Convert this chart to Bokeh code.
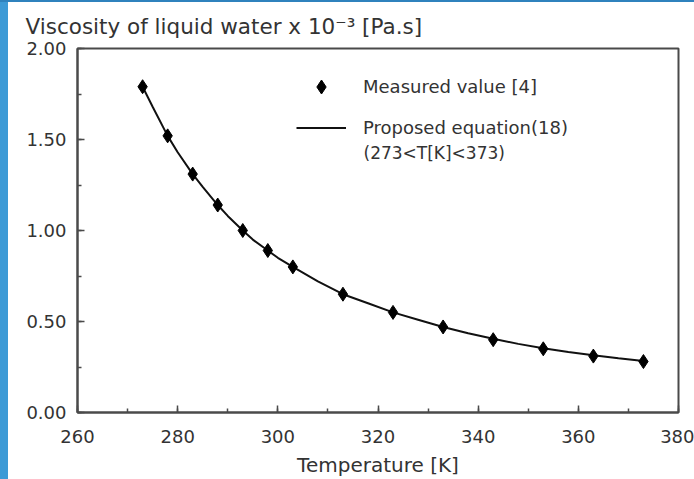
from bokeh.plotting import figure
from bokeh.models import (Range1d, SingleIntervalTicker, NumeralTickFormatter,
                          Label, Legend, LegendItem, Title, Div)
from bokeh.layouts import row, column
from bokeh.embed import file_html
from bokeh.resources import INLINE

# ---- data ----
T_meas = [273, 278, 283, 288, 293, 298, 303, 313, 323, 333, 343, 353, 363, 373]
mu_meas = [1.79, 1.52, 1.31, 1.14, 1.00, 0.89, 0.80, 0.65, 0.55, 0.47, 0.40, 0.35, 0.31, 0.28]

T_curve = [273, 275, 278, 280, 283, 285, 288, 290, 293, 295, 298, 300, 303, 308,
           313, 318, 323, 328, 333, 338, 343, 348, 353, 358, 363, 368, 373]
mu_curve = [1.79, 1.68, 1.52, 1.43, 1.31, 1.24, 1.14, 1.08, 1.00, 0.95, 0.89, 0.85, 0.80, 0.72,
            0.65, 0.60, 0.55, 0.51, 0.47, 0.435, 0.405, 0.377, 0.353, 0.333, 0.315, 0.298, 0.283]

x_ticks_interval = 20
y_ticks_interval = 0.5

FONT = "DejaVu Sans"
TXT = "#333333"
AX = "#4a4a4a"

title = Title(text="Viscosity of liquid water x 10\u207b\u00b3 [Pa.s]", align="left",
              offset=-52, standoff=19, text_font=FONT, text_font_size="21.5px",
              text_font_style="normal", text_color=TXT)

p = figure(width=686, height=477, output_backend="svg", toolbar_location=None,
           title=title, x_range=Range1d(260, 380), y_range=Range1d(0, 2.0),
           min_border_left=69, min_border_right=16, min_border_top=46, min_border_bottom=67,
           background_fill_color="white", border_fill_color="white")

p.xgrid.visible = False
p.ygrid.visible = False
p.outline_line_color = AX
p.outline_line_width = 2
p.outline_line_alpha = 1

p.xaxis.ticker = SingleIntervalTicker(interval=x_ticks_interval, num_minor_ticks=2)
p.yaxis.ticker = SingleIntervalTicker(interval=y_ticks_interval, num_minor_ticks=2)
p.yaxis.formatter = NumeralTickFormatter(format="0.00")

for ax in (p.xaxis, p.yaxis):
    ax.axis_line_color = AX
    ax.axis_line_width = 2
    ax.major_tick_line_color = AX
    ax.minor_tick_line_color = AX
    ax.major_tick_line_width = 1.5
    ax.minor_tick_line_width = 1.5
    ax.major_tick_in = 7
    ax.major_tick_out = 0
    ax.minor_tick_in = 4
    ax.minor_tick_out = 0
    ax.major_label_text_font = FONT
    ax.major_label_text_font_size = "18px"
    ax.major_label_text_color = TXT

p.xaxis.major_label_standoff = 17
p.yaxis.major_label_standoff = 11
p.xaxis.axis_label = "Temperature [K]"
p.xaxis.axis_label_text_font = FONT
p.xaxis.axis_label_text_font_size = "20px"
p.xaxis.axis_label_text_font_style = "normal"
p.xaxis.axis_label_text_color = TXT
p.xaxis.axis_label_standoff = 7

r_line = p.line(T_curve, mu_curve, line_color="#111111", line_width=2)
r_pts = p.scatter(T_meas, mu_meas, marker="diamond", size=14,
                  fill_color="black", line_color="black")

legend = Legend(items=[LegendItem(label="Measured value [4]", renderers=[r_pts]),
                       LegendItem(label="Proposed equation(18)", renderers=[r_line])],
                location=(219, 267.5), glyph_width=50, glyph_height=35,
                label_standoff=17, spacing=6, padding=0, margin=0,
                border_line_alpha=0, background_fill_alpha=0,
                label_text_font=FONT, label_text_font_size="18px",
                label_text_color=TXT)
p.add_layout(legend)

p.add_layout(Label(x=286, y=260, x_units="screen", y_units="screen",
                   text="(273<T[K]<373)", text_font=FONT, text_font_size="17px",
                   text_color=TXT, text_baseline="middle", text_align="left"))

top_bar = Div(width=694, height=2, margin=0, styles={"background-color": "#2f82bd"})
side_bar = Div(width=8, height=477, margin=0, styles={"background-color": "#3d9ad6"})
layout = column(top_bar, row(side_bar, p, spacing=0), spacing=0)

open("out.html", "w").write(file_html(layout, INLINE))
